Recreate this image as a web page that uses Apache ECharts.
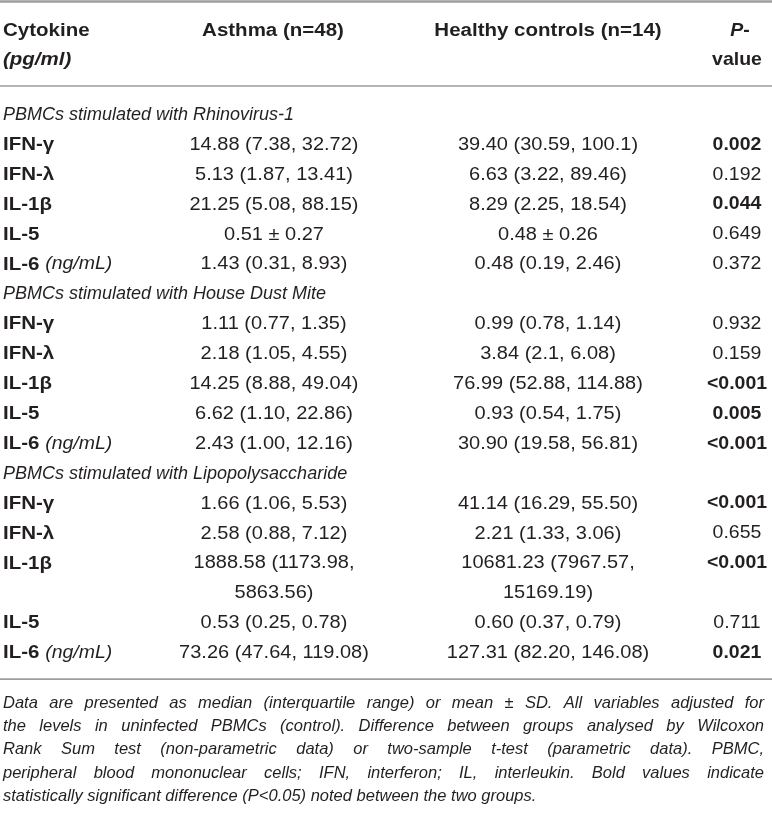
<!DOCTYPE html>
<html>
<head>
<meta charset="utf-8">
<script src="https://cdn.jsdelivr.net/npm/echarts/dist/echarts.min.js"></script>
<style>
  html, body { margin: 0; padding: 0; background: #fff; }
  #main { width: 772px; height: 826px; }
</style>
</head>
<body>
<div id="main"></div>
<script>
// 表格数据
const groupTitles = [
  'PBMCs stimulated with Rhinovirus-1',
  'PBMCs stimulated with House Dust Mite',
  'PBMCs stimulated with Lipopolysaccharide'
];
const cytokines = ['IFN-γ', 'IFN-λ', 'IL-1β', 'IL-5', 'IL-6'];
const cytokineUnits = ['', '', '', '', '(ng/mL)'];

const asthmaRV = ['14.88 (7.38, 32.72)', '5.13 (1.87, 13.41)', '21.25 (5.08, 88.15)', '0.51 ± 0.27', '1.43 (0.31, 8.93)'];
const healthyRV = ['39.40 (30.59, 100.1)', '6.63 (3.22, 89.46)', '8.29 (2.25, 18.54)', '0.48 ± 0.26', '0.48 (0.19, 2.46)'];
const pRV = ['0.002', '0.192', '0.044', '0.649', '0.372'];

const asthmaHDM = ['1.11 (0.77, 1.35)', '2.18 (1.05, 4.55)', '14.25 (8.88, 49.04)', '6.62 (1.10, 22.86)', '2.43 (1.00, 12.16)'];
const healthyHDM = ['0.99 (0.78, 1.14)', '3.84 (2.1, 6.08)', '76.99 (52.88, 114.88)', '0.93 (0.54, 1.75)', '30.90 (19.58, 56.81)'];
const pHDM = ['0.932', '0.159', '<0.001', '0.005', '<0.001'];

const asthmaLPS = ['1.66 (1.06, 5.53)', '2.58 (0.88, 7.12)', '1888.58 (1173.98, 5863.56)', '0.53 (0.25, 0.78)', '73.26 (47.64, 119.08)'];
const healthyLPS = ['41.14 (16.29, 55.50)', '2.21 (1.33, 3.06)', '10681.23 (7967.57, 15169.19)', '0.60 (0.37, 0.79)', '127.31 (82.20, 146.08)'];
const pLPS = ['<0.001', '0.655', '<0.001', '0.711', '0.021'];

const headerLabels = ['Cytokine', '(pg/ml)', 'Asthma (n=48)', 'Healthy controls (n=14)', 'P', '-', 'value'];

const footnoteLines = [
  'Data are presented as median (interquartile range) or mean ± SD. All variables adjusted for',
  'the levels in uninfected PBMCs (control). Difference between groups analysed by Wilcoxon',
  'Rank Sum test (non-parametric data) or two-sample t-test (parametric data). PBMC,',
  'peripheral blood mononuclear cells; IFN, interferon; IL, interleukin. Bold values indicate',
  'statistically significant difference (P<0.05) noted between the two groups.'
];

// 版式
const FONT = '"Liberation Sans", Arial, Helvetica, sans-serif';
const INK = '#231f20';
const RULE = '#9d9d9d';
const cellSize = 20;     // 数值列
const labelSize = 20.5;  // 细胞因子名、表头
const pSize = 19.5;      // P 值列
const groupSize = 18;    // 分组标题（斜体）
const noteSize = 16.5;
const squash = 0.9;      // 原图文字略扁
const lineH = 29.9;
const bodyTop = 100;
const colX = { label: 3, asthma: 274, healthy: 548, p: 737 };
const colWrap = 230;
const tableRight = 764;

const ctx = document.createElement('canvas').getContext('2d');
function textWidth(t, font) {
  ctx.font = font;
  return ctx.measureText(t).width;
}
function wrapCell(t) {
  if (textWidth(t, cellSize + 'px ' + FONT) <= colWrap) return [t];
  const k = t.lastIndexOf(', ');
  return [t.slice(0, k + 1), t.slice(k + 2)];
}

// 把各组数据拼成表格行
const groups = [
  [asthmaRV, healthyRV, pRV],
  [asthmaHDM, healthyHDM, pHDM],
  [asthmaLPS, healthyLPS, pLPS]
];
const bodyRows = [];
let line = 0;
groups.forEach(function (g, gi) {
  bodyRows.push({ kind: 'group', text: groupTitles[gi], start: line, lines: 1 });
  line += 1;
  cytokines.forEach(function (c, i) {
    const a = wrapCell(g[0][i]);
    const h = wrapCell(g[1][i]);
    const n = Math.max(a.length, h.length);
    bodyRows.push({ kind: 'row', label: c, unit: cytokineUnits[i], asthma: a, healthy: h, p: g[2][i], start: line, lines: n });
    line += n;
  });
});
const totalLines = line;

function isSig(p) {
  return parseFloat(p.replace('<', '')) < 0.05;
}

// 文字元素：位置放在元素上，便于纵向压扁
function cellText(x, y, text, extra, sy) {
  return {
    type: 'text',
    x: x, y: y,
    scaleY: sy || squash,
    style: Object.assign({
      text: text, x: 0, y: 0,
      fill: INK, fontSize: cellSize, fontFamily: FONT,
      textAlign: 'center', textVerticalAlign: 'middle'
    }, extra || {})
  };
}

// 表头、横线和注释
const graphics = [];
const ruleYs = [1.5, 86, bodyTop + totalLines * lineH + 11];
ruleYs.forEach(function (y, i) {
  graphics.push({
    type: 'line',
    shape: { x1: 0, y1: y, x2: 772, y2: y },
    style: { stroke: RULE, lineWidth: i === 0 ? 2.5 : 1.6 }
  });
});
const hb = { fontWeight: 'bold', fontSize: labelSize };
graphics.push(
  cellText(colX.label, 31, headerLabels[0], Object.assign({ textAlign: 'left' }, hb)),
  cellText(colX.label, 60, headerLabels[1], Object.assign({ textAlign: 'left', fontStyle: 'italic' }, hb)),
  cellText(colX.asthma - 1, 31, headerLabels[2], hb),
  cellText(colX.healthy, 31, headerLabels[3], hb),
  {
    type: 'text',
    x: colX.p + 3, y: 31, scaleY: squash,
    style: {
      text: '{bi|' + headerLabels[4] + '}{b|' + headerLabels[5] + '}',
      x: 0, y: 0, textAlign: 'center', textVerticalAlign: 'middle',
      fill: INK, fontSize: pSize, fontFamily: FONT,
      rich: {
        bi: { fontWeight: 'bold', fontStyle: 'italic', fontSize: pSize, fontFamily: FONT, fill: INK },
        b: { fontWeight: 'bold', fontSize: pSize, fontFamily: FONT, fill: INK }
      }
    }
  },
  cellText(colX.p, 60, headerLabels[6], { fontWeight: 'bold', fontSize: pSize })
);

const noteFont = 'italic ' + noteSize + 'px ' + FONT;
const noteTop = ruleYs[2] + 24;
const noteLead = 23.3;
const noteWidth = tableRight - colX.label;
footnoteLines.forEach(function (txt, li) {
  const y = noteTop + li * noteLead;
  const words = txt.split(' ');
  const widths = words.map(function (w) { return textWidth(w, noteFont); });
  const total = widths.reduce(function (s, w) { return s + w; }, 0);
  const last = li === footnoteLines.length - 1;
  const gap = last ? textWidth(' ', noteFont) : (noteWidth - total) / (words.length - 1);
  let x = colX.label;
  words.forEach(function (w, wi) {
    graphics.push(cellText(x, y, w, { fontSize: noteSize, fontStyle: 'italic', textAlign: 'left' }, 1));
    x += widths[wi] + gap;
  });
});

const chart = echarts.init(document.getElementById('main'), null, { renderer: 'canvas' });
chart.setOption({
  animation: false,
  grid: { left: 0, right: 0, top: bodyTop, height: totalLines * lineH },
  xAxis: { type: 'value', min: 0, max: 772, show: false },
  yAxis: { type: 'value', min: 0, max: totalLines, inverse: true, show: false },
  graphic: graphics,
  series: [{
    type: 'custom',
    clip: false,
    data: bodyRows.map(function (r, i) { return [r.start, r.lines, i]; }),
    renderItem: function (params, api) {
      const r = bodyRows[api.value(2)];
      const start = api.value(0);
      const yAt = function (k) { return api.coord([0, start + k + 0.5])[1]; };
      const xAt = function (v) { return api.coord([v, 0])[0]; };
      const kids = [];
      if (r.kind === 'group') {
        kids.push(cellText(xAt(colX.label), yAt(0), r.text, { textAlign: 'left', fontStyle: 'italic', fontSize: groupSize }, 1));
      } else {
        const lbl = r.unit ? '{b|' + r.label + '} {i|' + r.unit + '}' : '{b|' + r.label + '}';
        kids.push({
          type: 'text',
          x: xAt(colX.label), y: yAt(0), scaleY: squash,
          style: {
            text: lbl, x: 0, y: 0, textAlign: 'left', textVerticalAlign: 'middle',
            fill: INK, fontSize: labelSize, fontFamily: FONT,
            rich: {
              b: { fontWeight: 'bold', fontSize: labelSize, fontFamily: FONT, fill: INK },
              i: { fontStyle: 'italic', fontSize: labelSize - 1, fontFamily: FONT, fill: INK }
            }
          }
        });
        r.asthma.forEach(function (t, k) { kids.push(cellText(xAt(colX.asthma), yAt(k), t)); });
        r.healthy.forEach(function (t, k) { kids.push(cellText(xAt(colX.healthy), yAt(k), t)); });
        kids.push(cellText(xAt(colX.p), yAt(0), r.p, isSig(r.p) ? { fontWeight: 'bold', fontSize: pSize } : { fontSize: pSize }));
      }
      return { type: 'group', children: kids };
    }
  }]
});
</script>
</body>
</html>
